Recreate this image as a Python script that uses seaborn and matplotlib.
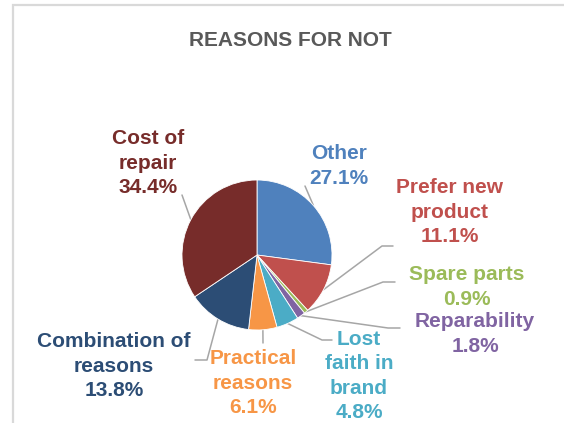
import numpy as np
import matplotlib
matplotlib.use("Agg")
import matplotlib.pyplot as plt
import seaborn as sns

# data
labels = ["Other", "Prefer new\nproduct", "Spare parts", "Reparability",
          "Lost\nfaith in\nbrand", "Practical\nreasons", "Combination of\nreasons",
          "Cost of\nrepair"]
shares = [27.1, 11.1, 0.9, 1.8, 4.8, 6.1, 13.8, 34.4]
colors = ["#4F81BD", "#C0504D", "#9BBB59", "#8064A2", "#4BACC6", "#F79646",
          "#2C4D75", "#772C2A"]

sns.set_theme(style="white")
plt.rcParams["font.family"] = ["Liberation Sans", "DejaVu Sans"]

W, H = 564, 423
fig = plt.figure(figsize=(W / 100, H / 100), dpi=100)
ax = fig.add_axes([0, 0, 1, 1])

def py(y):
    # pixel row -> data y
    return H - y

cx, cy, r = 257, 255, 75
wedges, _ = ax.pie(shares, colors=colors, startangle=90, counterclock=False,
                   center=(cx, py(cy)), radius=r, frame=True,
                   wedgeprops=dict(linewidth=0.6, edgecolor="white"))
ax.set_xlim(0, W)
ax.set_ylim(0, H)
ax.set_aspect("equal")
ax.axis("off")

# outer frame
ax.plot([13, 13, W + 5], [py(H + 5), py(5), py(5)], color="#D9D9D9", lw=1.6,
        solid_joinstyle="miter")

ax.text(290, py(40), "REASONS FOR NOT", ha="center", va="center",
        fontsize=15, fontweight="bold", color="#595959")

# label centres and leader line elbows (pixels)
label_pos = [(339, 166), (450, 212), (467, 287), (475, 334),
             (359, 376), (253, 383), (114, 366), (148, 163)]
leaders = [[(305, 186)],
           [(382, 246), (393, 246)],
           [(383, 282), (395, 282)],
           [(388, 328), (400, 328)],
           [(322, 340), (332, 340)],
           [(263, 343)],
           [(207, 360), (195, 360)],
           [(182, 195)]]

for w, lab, val, col, (lx, ly), pts in zip(wedges, labels, shares, colors,
                                           label_pos, leaders):
    mid = np.deg2rad((w.theta1 + w.theta2) / 2)
    sx, sy = cx + r * np.cos(mid), py(cy) + r * np.sin(mid)
    xs = [sx] + [p[0] for p in pts]
    ys = [sy] + [py(p[1]) for p in pts]
    ax.plot(xs, ys, color="#A6A6A6", lw=1.1, zorder=0.5)
    ax.text(lx, py(ly), f"{lab}\n{val:.1f}%", ha="center", va="center",
            fontsize=15, fontweight="bold", color=col, linespacing=1.35)

fig.savefig("out.png", dpi=100)
